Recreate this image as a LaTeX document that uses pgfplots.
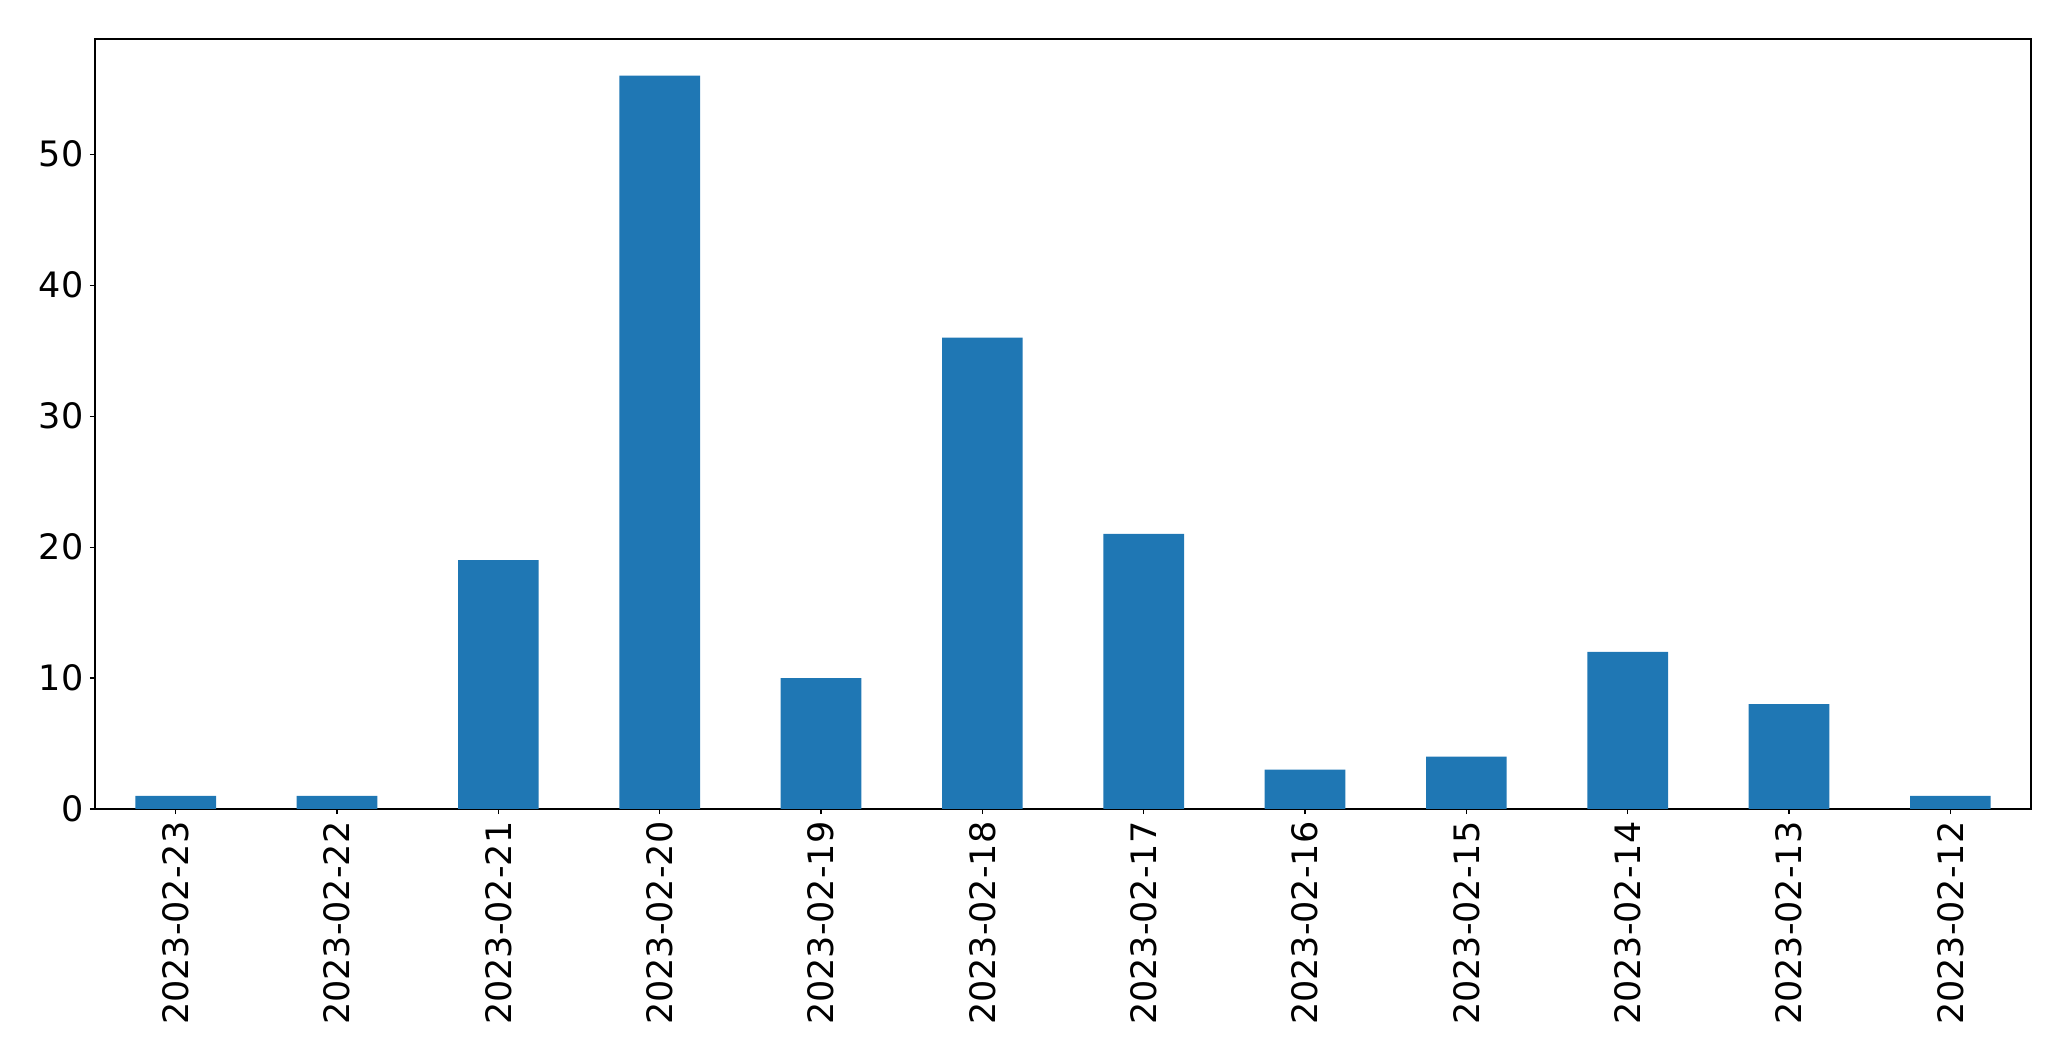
\documentclass[border=0pt]{standalone}
\usepackage{fontspec}
\setmainfont{DejaVu Sans}
\usepackage{pgfplots}
\pgfplotsset{compat=1.18}
\definecolor{mplblue}{HTML}{1F77B4}
\begin{document}
\begin{tikzpicture}
\begin{axis}[
  name=ax,
  scale only axis,
  width=968pt, height=385pt,
  xmin=-0.5, xmax=11.5,
  ymin=0, ymax=58.8,
  ytick={0,10,20,30,40,50},
  xtick={0,1,2,3,4,5,6,7,8,9,10,11},
  xticklabels={2023-02-23,2023-02-22,2023-02-21,2023-02-20,2023-02-19,2023-02-18,2023-02-17,2023-02-16,2023-02-15,2023-02-14,2023-02-13,2023-02-12},
  tick align=outside,
  xtick pos=left, ytick pos=left,
  major tick length=2.6pt,
  axis line style={line width=0.55pt},
  every tick/.style={line width=0.55pt, black},
  /pgf/number format/assume math mode=true,
  ticklabel style={font=\fontsize{17.5}{21}\selectfont},
  xticklabel style={rotate=90, anchor=east, inner sep=3.5pt},
  yticklabel style={inner sep=3pt},
  ybar, bar width=0.5,
]
\addplot[fill=mplblue, draw=none] coordinates {
(0,1) (1,1) (2,19) (3,56) (4,10) (5,36) (6,21) (7,3) (8,4) (9,12) (10,8) (11,1)
};
\end{axis}
\pgfresetboundingbox
\path ([shift={(-47.5pt,-126pt)}]ax.south west) rectangle ([shift={(20pt,19.5pt)}]ax.north east);
\end{tikzpicture}
\end{document}
